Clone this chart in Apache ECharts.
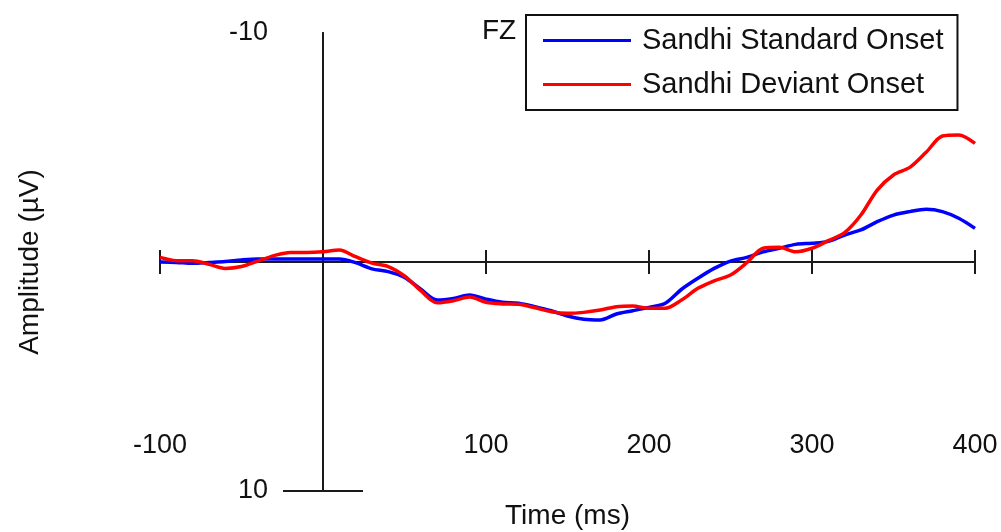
<!DOCTYPE html>
<html>
<head>
<meta charset="utf-8">
<script src="https://cdn.jsdelivr.net/npm/echarts@6/dist/echarts.min.js"></script>
<style>
  html, body { margin: 0; padding: 0; background: #fff; }
  #chart { width: 1001px; height: 532px; }
</style>
</head>
<body>
<div id="chart"></div>
<script>
// time points (ms)
var times = [-100, -90, -80, -70, -60, -50, -40, -30, -20, -10,
  0, 10, 20, 30, 40, 50, 60, 70, 80, 90,
  100, 110, 120, 130, 140, 150, 160, 170, 180, 190,
  200, 210, 220, 230, 240, 250, 260, 270, 280, 290,
  300, 310, 320, 330, 340, 350, 360, 370, 380, 390, 400];

// amplitude in µV (negative plotted up)
var standardOnset = [0.0, 0.02, 0.06, 0.02, -0.02, -0.09, -0.13, -0.13, -0.13, -0.13,
  -0.13, -0.13, 0.03, 0.3, 0.42, 0.67, 1.19, 1.66, 1.59, 1.44,
  1.62, 1.76, 1.8, 1.95, 2.13, 2.36, 2.5, 2.53, 2.27, 2.13,
  1.98, 1.8, 1.19, 0.71, 0.28, -0.04, -0.2, -0.44, -0.6, -0.77,
  -0.82, -0.9, -1.18, -1.4, -1.76, -2.05, -2.2, -2.3, -2.2, -1.91, -1.47];

var deviantOnset = [-0.2, -0.06, -0.06, 0.1, 0.28, 0.2, -0.04, -0.28, -0.42, -0.42,
  -0.45, -0.52, -0.23, 0.05, 0.2, 0.61, 1.25, 1.78, 1.69, 1.53,
  1.76, 1.83, 1.85, 2.0, 2.17, 2.24, 2.2, 2.1, 1.95, 1.92,
  2.02, 2.02, 1.66, 1.15, 0.82, 0.57, 0.03, -0.6, -0.64, -0.45,
  -0.6, -0.93, -1.28, -2.05, -3.14, -3.8, -4.13, -4.79, -5.5, -5.55, -5.18];

var xTickLabels = ['-100', '100', '200', '300', '400'];
var yTickLabels = [-10, 10];

var font = 'Arial, "Liberation Sans", sans-serif';
var axisColor = '#1a1a1a';

function pairs(vals) {
  return times.map(function (t, i) { return [t, vals[i]]; });
}

var chart = echarts.init(document.getElementById('chart'));
var option = {
  animation: false,
  title: {
    text: 'FZ',
    left: 482,
    top: 17,
    padding: 0,
    textStyle: { fontSize: 28, fontWeight: 'normal', color: '#111', fontFamily: font }
  },
  legend: {
    orient: 'vertical',
    left: 526,
    top: 15,
    borderColor: '#111',
    borderWidth: 2,
    padding: [11, 14, 11, 17],
    itemWidth: 88,
    itemHeight: 3,
    itemGap: 15,
    icon: 'rect',
    textStyle: { fontSize: 29, color: '#111', fontFamily: font, padding: [2, 0, 0, 6] },
    data: ['Sandhi Standard Onset', 'Sandhi Deviant Onset']
  },
  grid: { left: 160, right: 26, top: 33, bottom: 41, containLabel: false, outerBoundsMode: 'none' },
  xAxis: [
    {
      type: 'value',
      min: -100,
      max: 400,
      interval: 100,
      position: 'bottom',
      axisLine: { onZero: true, lineStyle: { color: axisColor, width: 2 } },
      axisTick: { length: 12, lineStyle: { color: axisColor, width: 2 } },
      axisLabel: {
        margin: -59,
        fontSize: 27,
        color: '#111',
        fontFamily: font,
        formatter: function (v) {
          var s = String(v);
          return xTickLabels.indexOf(s) >= 0 ? s : '';
        }
      },
      splitLine: { show: false },
      name: 'Time (ms)',
      nameLocation: 'middle',
      nameGap: 11,
      nameTextStyle: { fontSize: 28, color: '#111', fontFamily: font }
    },
    {
      type: 'value',
      min: -100,
      max: 400,
      interval: 100,
      position: 'bottom',
      axisLine: { onZero: true, lineStyle: { color: axisColor, width: 2 } },
      axisTick: { inside: true, length: 12, lineStyle: { color: axisColor, width: 2 } },
      axisLabel: { show: false },
      splitLine: { show: false }
    }
  ],
  yAxis: [
    {
      type: 'value',
      inverse: true,
      min: -10,
      max: 10,
      position: 'left',
      axisLine: { show: true, onZero: true, lineStyle: { color: axisColor, width: 2 } },
      axisTick: { show: true, length: 40, customValues: [10], lineStyle: { color: axisColor, width: 2 } },
      axisLabel: {
        margin: -108,
        fontSize: 27,
        color: '#111',
        fontFamily: font,
        customValues: yTickLabels
      },
      splitLine: { show: false },
      name: 'Amplitude (µV)',
      nameLocation: 'middle',
      nameRotate: 90,
      nameGap: 116,
      nameTextStyle: { fontSize: 28, color: '#111', fontFamily: font }
    },
    {
      type: 'value',
      inverse: true,
      min: -10,
      max: 10,
      position: 'left',
      axisLine: { show: true, onZero: true, lineStyle: { color: axisColor, width: 2 } },
      axisTick: { show: true, inside: true, length: 40, customValues: [10], lineStyle: { color: axisColor, width: 2 } },
      axisLabel: { show: false },
      splitLine: { show: false }
    }
  ],
  series: [
    {
      name: 'Sandhi Standard Onset',
      type: 'line',
      data: pairs(standardOnset),
      showSymbol: false,
      smooth: 0.3,
      color: '#0000ff',
      lineStyle: { color: '#0000ff', width: 3.5 }
    },
    {
      name: 'Sandhi Deviant Onset',
      type: 'line',
      data: pairs(deviantOnset),
      showSymbol: false,
      smooth: 0.3,
      color: '#ff0000',
      lineStyle: { color: '#ff0000', width: 3.5 }
    }
  ]
};
chart.setOption(option);
</script>
</body>
</html>
